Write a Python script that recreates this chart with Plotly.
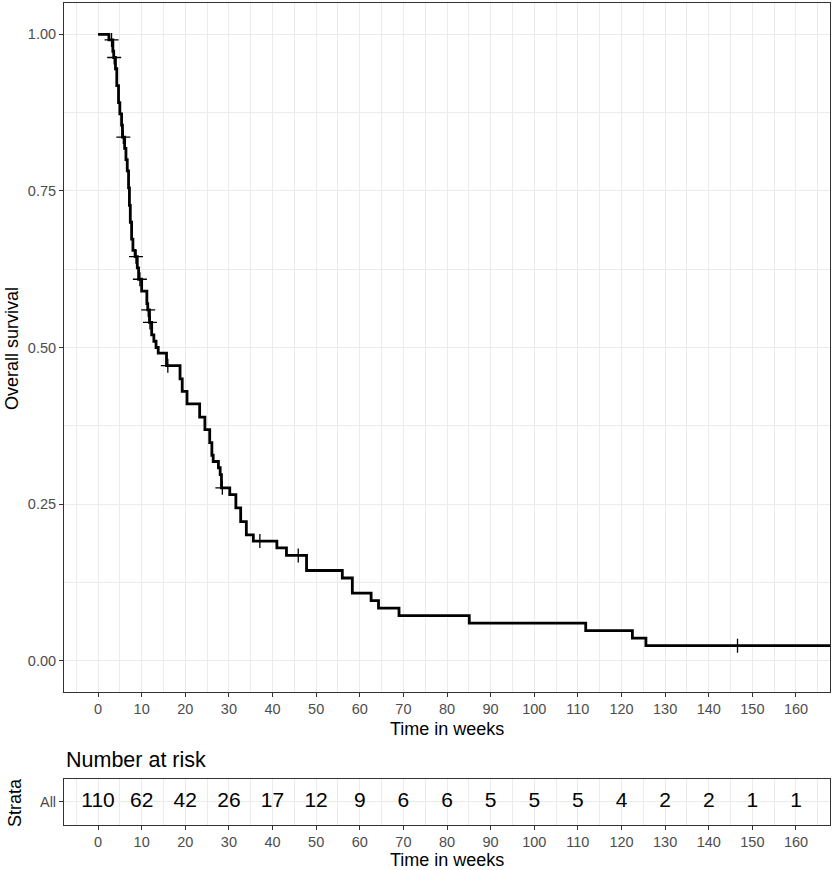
import numpy as np
import plotly.graph_objects as go

# Kaplan-Meier steps (weeks, survival after the step)
time_wk = [0, 2.5, 3.4, 3.6, 4.0, 4.3, 4.7, 5.0, 5.4, 5.6, 6.1, 6.4, 6.7, 7.0, 7.2, 7.4,
           7.7, 8.0, 8.5, 9.0, 9.3, 10.0, 11.2, 11.4, 11.8, 12.3, 12.8, 13.3, 13.8, 15.7,
           18.8, 19.3, 20.4, 23.3, 24.5, 25.6, 26.1, 26.4, 27.6, 28.0, 28.3, 30.2, 31.6,
           32.7, 34.0, 35.6, 41.0, 43.2, 47.8, 56.0, 58.3, 62.6, 64.3, 69.0, 85.1, 111.8,
           122.5, 125.6, 170.0]
surv = [1.0, 0.991, 0.973, 0.963, 0.945, 0.918, 0.891, 0.873, 0.855, 0.836, 0.818, 0.800,
        0.782, 0.755, 0.727, 0.700, 0.673, 0.655, 0.645, 0.627, 0.609, 0.590, 0.570, 0.560,
        0.540, 0.520, 0.510, 0.500, 0.491, 0.471, 0.450, 0.430, 0.410, 0.389, 0.369, 0.348,
        0.328, 0.318, 0.308, 0.297, 0.276, 0.265, 0.244, 0.222, 0.201, 0.191, 0.180, 0.168,
        0.144, 0.132, 0.108, 0.096, 0.084, 0.072, 0.060, 0.048, 0.036, 0.024, 0.024]

# censored observations
censor_wk = [3.1, 3.7, 5.8, 8.7, 9.6, 11.5, 11.9, 16.0, 28.5, 37.1, 45.9, 146.6]

# number at risk table
risk_time = [0, 10, 20, 30, 40, 50, 60, 70, 80, 90, 100, 110, 120, 130, 140, 150, 160]
risk_n = [110, 62, 42, 26, 17, 12, 9, 6, 6, 5, 5, 5, 4, 2, 2, 1, 1]
strata = 'All'

idx = np.searchsorted(time_wk, censor_wk, side='right') - 1
censor_surv = [surv[i] for i in idx]

GRID = '#EBEBEB'
BORDER = '#333333'
TICKTXT = '#4D4D4D'
xr = [-7.8, 167.8]

fig = go.Figure()
fig.add_trace(go.Scatter(x=time_wk, y=surv, mode='lines',
                         line=dict(color='black', width=2.8, shape='hv'),
                         xaxis='x', yaxis='y'))
fig.add_trace(go.Scatter(x=censor_wk, y=censor_surv, mode='markers',
                         marker=dict(symbol='cross-thin', size=10,
                                     line=dict(color='black', width=1.3)),
                         xaxis='x', yaxis='y'))
fig.add_trace(go.Scatter(x=risk_time, y=[strata] * len(risk_time), mode='text',
                         text=[str(v) for v in risk_n],
                         textfont=dict(size=21, color='black'),
                         xaxis='x2', yaxis='y2'))

axis_style = dict(showgrid=True, gridcolor=GRID, gridwidth=1.4, zeroline=False,
                  showline=True, mirror=True, linecolor=BORDER, linewidth=1,
                  ticks='outside', ticklen=4, tickcolor=BORDER, tickwidth=1,
                  tickfont=dict(size=14.5, color=TICKTXT))
xminor = dict(dtick=5, tick0=0, showgrid=True, gridcolor=GRID, gridwidth=1)

fig.update_layout(
    width=835, height=870,
    margin=dict(l=64, r=5, t=3, b=45),
    plot_bgcolor='white', paper_bgcolor='white',
    showlegend=False,
    font=dict(family='Liberation Sans, Arial, sans-serif', color='black'),
    xaxis=dict(domain=[0, 1], anchor='y', range=xr, tick0=0, dtick=10,
               minor=xminor, **axis_style),
    yaxis=dict(domain=[0.1618, 1], anchor='x', range=[-0.05, 1.05], tick0=0, dtick=0.25,
               tickformat='.2f',
               minor=dict(dtick=0.125, tick0=0, showgrid=True, gridcolor=GRID, gridwidth=1),
               **axis_style),
    xaxis2=dict(domain=[0, 1], anchor='y2', range=xr, tick0=0, dtick=10,
                minor=xminor, **axis_style),
    yaxis2=dict(domain=[0, 0.056], anchor='x2', type='category', range=[-0.6, 0.6],
                **axis_style),
)

def py(page_y):
    return (825 - page_y) / 822

def px(page_x):
    return (page_x - 64) / 766

ann = [
    dict(text='Time in weeks', x=px(447), y=py(729), size=18, angle=0, xanchor='center'),
    dict(text='Time in weeks', x=px(447), y=py(860), size=18, angle=0, xanchor='center'),
    dict(text='Overall survival', x=px(12), y=py(348), size=18, angle=-90, xanchor='center'),
    dict(text='Strata', x=px(15), y=py(803), size=18, angle=-90, xanchor='center'),
    dict(text='Number at risk', x=px(64), y=py(760), size=21.5, angle=0, xanchor='left'),
]
for a in ann:
    fig.add_annotation(text=a['text'], x=a['x'], y=a['y'], xref='paper', yref='paper',
                       showarrow=False, textangle=a['angle'], xanchor=a['xanchor'],
                       yanchor='middle', font=dict(size=a['size'], color='black'))

# page margin off so the figure sits at the window corner
fig.write_html("out.html", config={'displayModeBar': False},
               post_script="document.body.style.margin='0px';")
